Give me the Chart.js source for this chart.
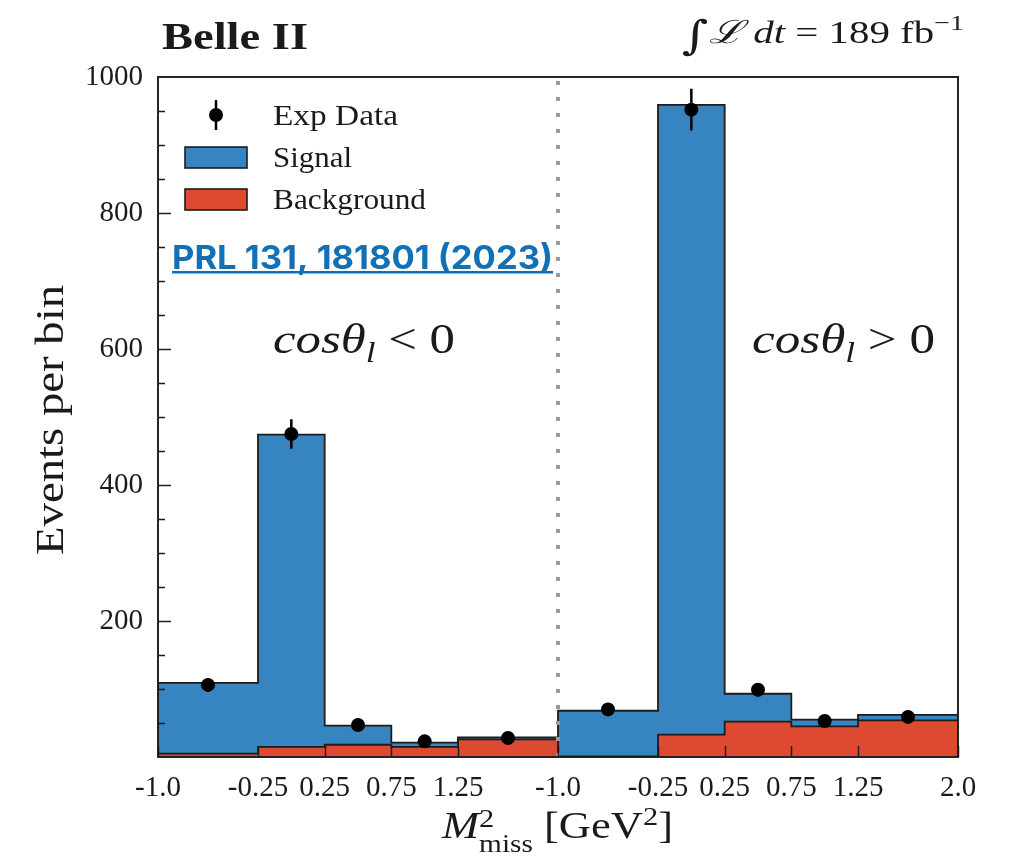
<!DOCTYPE html>
<html>
<head>
<meta charset="utf-8">
<script src="https://cdn.jsdelivr.net/npm/chart.js@4.4.0/dist/chart.umd.min.js"></script>
<style>
  html, body { margin: 0; padding: 0; background: #fff; }
  #wrap { width: 1009px; height: 857px; }
</style>
</head>
<body>
<div id="wrap"><canvas id="chart" width="1009" height="857"></canvas></div>
<script>
// M_miss^2 bin edges [GeV^2], same binning in both cos(theta_l) regions
const binEdges = [-1.0, -0.25, 0.25, 0.75, 1.25, 2.0];

// cos(theta_l) < 0
const signalNeg = [104, 459, 28, 6, 3];
const backgroundNeg = [5, 15, 18, 15, 26];
const dataNeg = [106, 475, 47, 23, 28];

// cos(theta_l) > 0
const signalPos = [67, 926, 41, 10, 8];
const backgroundPos = [1, 33, 52, 45, 54];
const dataPos = [70, 952, 99, 53, 59];

const yTicks = [200, 400, 600, 800, 1000];

const BLUE = '#3685c0';
const RED = '#dd4a31';
const EDGE = '#1c1c1c';
const INK = '#1a1a1a';
const SERIF = '"Liberation Serif"';

// both regions share one linear axis: region 0 on [0, span], region 1 on [span, 2*span]
const span = binEdges[binEdges.length - 1] - binEdges[0];
const toAxis = (e, panel) => e - binEdges[0] + panel * span;
const centers = binEdges.slice(0, -1).map((e, i) => (e + binEdges[i + 1]) / 2);
const stack = (a, b) => a.map((v, i) => v + b[i]);

function stepPath(values, panel) {
  const pts = [{ x: toAxis(binEdges[0], panel), y: 0 }];
  values.forEach((v, i) => {
    pts.push({ x: toAxis(binEdges[i], panel), y: v });
    pts.push({ x: toAxis(binEdges[i + 1], panel), y: v });
  });
  pts.push({ x: toAxis(binEdges[binEdges.length - 1], panel), y: 0 });
  return pts;
}

function markers(values, panel) {
  return values.map((v, i) => ({ x: toAxis(centers[i], panel), y: v }));
}

// sqrt(N) error bars, separated by null points
function errorBars(values, panel) {
  const pts = [];
  values.forEach((v, i) => {
    const x = toAxis(centers[i], panel), e = Math.sqrt(v);
    pts.push({ x, y: v - e }, { x, y: v + e }, { x, y: null });
  });
  return pts;
}

const fmtEdge = e => Math.abs(e * 10 - Math.round(e * 10)) < 1e-9 ? e.toFixed(1) : e.toFixed(2);
const xTickValues = [], xTickLabels = [];
[0, 1].forEach(panel => {
  binEdges.forEach((e, i) => {
    if (panel === 0 && i === binEdges.length - 1) return;
    xTickValues.push(toAxis(e, panel));
    xTickLabels.push(fmtEdge(e));
  });
});

// text made of runs with their own font / baseline shift, stretched to a width
function drawRuns(ctx, runs, x, y, opt) {
  let cursor = 0, lastStart = 0;
  const placed = runs.map(r => {
    ctx.font = r.f;
    const w = ctx.measureText(r.t).width;
    const start = r.stack ? lastStart : cursor;
    lastStart = start;
    cursor = Math.max(cursor, start + w);
    return { r, start };
  });
  const sx = opt.width ? opt.width / cursor : (opt.scale || 1);
  ctx.save();
  ctx.translate(x, y);
  if (opt.rotate) ctx.rotate(opt.rotate);
  ctx.scale(sx, 1);
  const off = opt.center ? -cursor / 2 : 0;
  ctx.fillStyle = opt.color || INK;
  ctx.textBaseline = 'alphabetic';
  ctx.textAlign = 'left';
  placed.forEach(({ r, start }) => {
    ctx.font = r.f;
    ctx.fillText(r.t, off + start, r.dy || 0);
  });
  ctx.restore();
}

const cosRuns = sign => [
  { t: 'cos\u03b8', f: `italic 42px ${SERIF}` },
  { t: 'l', f: `italic 29px ${SERIF}`, dy: 9 },
  { t: ` ${sign} 0`, f: `42px ${SERIF}` }
];

const decorations = {
  id: 'decorations',
  afterDatasetsDraw(chart) {
    const { ctx, chartArea: a, scales: { x, y } } = chart;
    ctx.save();

    // region separator
    const xs = x.getPixelForValue(span);
    ctx.strokeStyle = '#9a9a9a';
    ctx.lineWidth = 4;
    ctx.setLineDash([4, 12]);
    ctx.beginPath();
    ctx.moveTo(xs, a.top + 4);
    ctx.lineTo(xs, a.bottom);
    ctx.stroke();
    ctx.setLineDash([]);

    // inward ticks
    ctx.strokeStyle = EDGE;
    ctx.lineWidth = 1.5;
    ctx.beginPath();
    for (let v = 50; v < 1000; v += 50) {
      const py = Math.round(y.getPixelForValue(v)) + 0.5;
      const len = v % 200 === 0 ? 13 : 7;
      ctx.moveTo(a.left, py);
      ctx.lineTo(a.left + len, py);
    }
    xTickValues.forEach(v => {
      const px = Math.round(x.getPixelForValue(v)) + 0.5;
      ctx.moveTo(px, a.bottom);
      ctx.lineTo(px, a.bottom - 11);
    });
    ctx.stroke();

    // frame
    ctx.lineWidth = 1.9;
    ctx.strokeRect(a.left, a.top, a.right - a.left, a.bottom - a.top);
    ctx.restore();
  },
  afterDraw(chart) {
    const { ctx } = chart;

    // legend
    ctx.save();
    ctx.strokeStyle = '#000';
    ctx.lineWidth = 2.5;
    ctx.beginPath();
    ctx.moveTo(216, 100);
    ctx.lineTo(216, 130);
    ctx.stroke();
    ctx.fillStyle = '#000';
    ctx.beginPath();
    ctx.arc(216, 115, 7, 0, Math.PI * 2);
    ctx.fill();
    [[BLUE, 147], [RED, 189]].forEach(([c, top]) => {
      ctx.fillStyle = c;
      ctx.fillRect(185, top, 62, 21);
      ctx.strokeStyle = EDGE;
      ctx.lineWidth = 1.6;
      ctx.strokeRect(185, top, 62, 21);
    });
    ctx.restore();
    drawRuns(ctx, [{ t: 'Exp Data', f: `29px ${SERIF}` }], 273, 125, { width: 125 });
    drawRuns(ctx, [{ t: 'Signal', f: `29px ${SERIF}` }], 273, 167, { width: 79 });
    drawRuns(ctx, [{ t: 'Background', f: `29px ${SERIF}` }], 273, 209, { width: 153 });

    // header
    drawRuns(ctx, [{ t: 'Belle II', f: `bold 38px ${SERIF}` }], 162, 49, { width: 146 });
    drawRuns(ctx, [
      { t: '\u222b', f: '40px "DejaVu Serif"', dy: 6 },
      { t: '\u2112', f: 'italic 32px "DejaVu Serif"' },
      { t: ' dt', f: `italic 32px ${SERIF}` },
      { t: ' = 189 fb', f: `32px ${SERIF}` },
      { t: '\u22121', f: `22px ${SERIF}`, dy: -13 }
    ], 682, 43, { width: 282 });

    // reference link
    drawRuns(ctx, [{ t: 'PRL 131, 181801 (2023)', f: 'bold 33px Inter' }], 172, 269,
      { width: 381, color: '#1170b6' });
    ctx.fillStyle = '#1170b6';
    ctx.fillRect(172, 271, 381, 2.5);

    // region labels
    drawRuns(ctx, cosRuns('<'), 273, 353, { width: 182 });
    drawRuns(ctx, cosRuns('>'), 752, 353, { width: 183 });

    // axis titles
    drawRuns(ctx, [
      { t: 'M', f: `italic 38px ${SERIF}` },
      { t: '2', f: `26px ${SERIF}`, dy: -11 },
      { t: 'miss', f: `25px ${SERIF}`, dy: 14, stack: true },
      { t: ' [GeV', f: `38px ${SERIF}` },
      { t: '2', f: `26px ${SERIF}`, dy: -13 },
      { t: ']', f: `38px ${SERIF}` }
    ], 442, 838, { width: 231 });
    drawRuns(ctx, [{ t: 'Events per bin', f: `40px ${SERIF}` }], 63, 420,
      { width: 270, rotate: -Math.PI / 2, center: true });
  }
};

const histo = (label, data, color, order) => ({
  label, data, order,
  fill: 'origin',
  backgroundColor: color,
  borderColor: EDGE,
  borderWidth: 1.8,
  pointRadius: 0,
  tension: 0
});

new Chart(document.getElementById('chart'), {
  type: 'line',
  data: {
    datasets: [
      {
        label: 'Exp Data',
        data: markers(dataNeg, 0).concat(markers(dataPos, 1)),
        showLine: false,
        pointRadius: 7,
        pointBorderWidth: 0,
        pointBackgroundColor: '#000',
        order: 0
      },
      {
        label: 'Exp Data uncertainty',
        data: errorBars(dataNeg, 0).concat(errorBars(dataPos, 1)),
        borderColor: '#000',
        borderWidth: 2.5,
        pointRadius: 0,
        spanGaps: false,
        order: 1
      },
      histo('Background', stepPath(backgroundNeg, 0), RED, 2),
      histo('Background', stepPath(backgroundPos, 1), RED, 3),
      histo('Signal', stepPath(stack(backgroundNeg, signalNeg), 0), BLUE, 4),
      histo('Signal', stepPath(stack(backgroundPos, signalPos), 1), BLUE, 5)
    ]
  },
  options: {
    responsive: false,
    animation: false,
    layout: { padding: { top: 77, right: 51, left: 0, bottom: 0 } },
    plugins: { legend: { display: false }, tooltip: { enabled: false } },
    scales: {
      x: {
        type: 'linear',
        min: 0,
        max: 2 * span,
        grid: { display: false, drawTicks: false },
        border: { display: false },
        afterFit: s => { s.height = 100; },
        afterBuildTicks: s => { s.ticks = xTickValues.map(v => ({ value: v })); },
        ticks: {
          autoSkip: false,
          maxRotation: 0,
          padding: 14,
          color: INK,
          font: { family: SERIF, size: 29 },
          callback: v => xTickLabels[xTickValues.indexOf(v)]
        }
      },
      y: {
        min: 0,
        max: 1000,
        grid: { display: false, drawTicks: false },
        border: { display: false },
        afterFit: s => { s.width = 158; },
        afterBuildTicks: s => { s.ticks = yTicks.map(v => ({ value: v })); },
        ticks: {
          padding: 15,
          color: INK,
          font: { family: SERIF, size: 29 },
          callback: v => String(v)
        }
      }
    }
  },
  plugins: [decorations]
});
</script>
</body>
</html>
